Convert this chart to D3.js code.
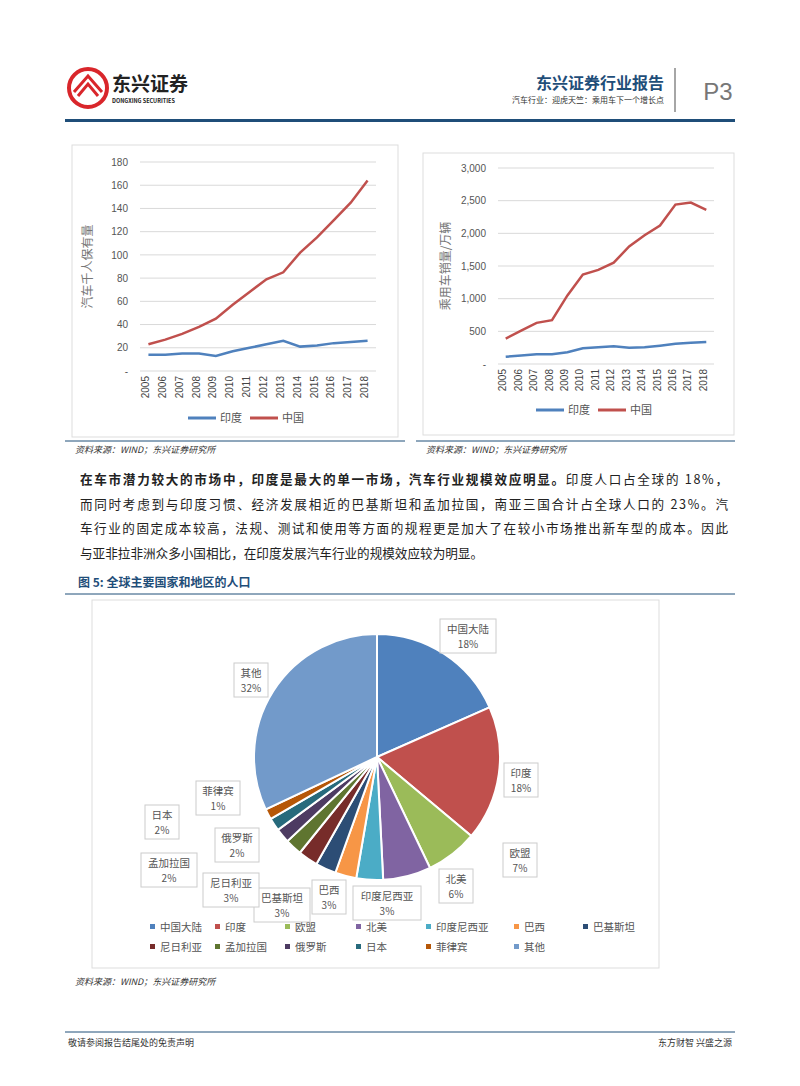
<!DOCTYPE html>
<html><head><meta charset="utf-8">
<script src="https://cdn.jsdelivr.net/npm/d3@7"></script>
<style>body{margin:0;background:#fff;font-family:"Noto Sans CJK SC","Noto Sans",sans-serif;}</style>
</head><body><div id="page"></div>
<script>
// years on both line charts
var years = ["2005","2006","2007","2008","2009","2010","2011","2012","2013","2014","2015","2016","2017","2018"];
// cars per 1000 people
var ownIndia = [14,14,15,15,13,17,20,23,26,21,22,24,25,26];
var ownChina = [23,27,32,38,45,57,68,79,85,102,115,130,145,164];
// passenger car sales, 10k units
var salesIndia = [110,130,150,150,180,240,255,270,250,255,280,310,325,335];
var salesChina = [390,510,630,670,1050,1370,1440,1550,1800,1970,2120,2440,2470,2360];
var ownTicks = [0,20,40,60,80,100,120,140,160,180];
var salesTicks = [0,500,1000,1500,2000,2500,3000];
// population share
var popNames = ["中国大陆","印度","欧盟","北美","印度尼西亚","巴西","巴基斯坦","尼日利亚","孟加拉国","俄罗斯","日本","菲律宾","其他"];
var popShare = [18.4,17.7,6.8,6.3,3.5,2.8,2.7,2.6,2.2,1.9,1.7,1.4,32.0];
var popLabels = ["18%","18%","7%","6%","3%","3%","3%","3%","2%","2%","2%","1%","32%"];
var popColors = ["#4f81bd","#c0504d","#9bbb59","#8064a2","#4bacc6","#f79646","#2c4d75","#772c2a","#5f7530","#4d3b62","#276a7c","#b65708","#729aca"];
// label box centres (layout only)
var labelPos = [[468,636],[521,780],[520,860],[456,886],[387,903],[329,897],[282,905],[231,890],[169,870],[237,845],[162,822],[218,798],[251,680]];

var svg = d3.select("#page").append("svg").attr("width",800).attr("height",1086);
var blue = "#1f4e79", dark = "#222";

// header
svg.append("circle").attr("cx",88).attr("cy",88).attr("r",19).attr("fill","none").attr("stroke","#d9262b").attr("stroke-width",4);
svg.append("path").attr("d","M74,92 L88,76 L102,92 M78,96 L88,84 L98,96").attr("fill","none").attr("stroke","#d9262b").attr("stroke-width",3);
svg.append("text").attr("x",112).attr("y",91).attr("font-size",19).attr("font-weight","bold").attr("fill","#222").text("东兴证券");
svg.append("text").attr("x",112).attr("y",103).attr("font-size",5.5).attr("font-weight","bold").attr("fill","#222").text("DONGXING SECURITIES");
svg.append("text").attr("x",664).attr("y",89).attr("text-anchor","end").attr("font-size",16).attr("font-weight","bold").attr("fill",blue).text("东兴证券行业报告");
svg.append("text").attr("x",664).attr("y",103).attr("text-anchor","end").attr("font-size",8).attr("fill","#333").text("汽车行业：迎虎天竺：乘用车下一个增长点");
svg.append("line").attr("x1",675).attr("x2",675).attr("y1",68).attr("y2",112).attr("stroke","#888").attr("stroke-width",1.5);
svg.append("text").attr("x",718).attr("y",100).attr("text-anchor","middle").attr("font-size",24).attr("fill","#777").attr("font-family","Liberation Sans").text("P3");
svg.append("rect").attr("x",65).attr("y",119).attr("width",670).attr("height",3).attr("fill",blue);

// line chart helper
function lineChart(box, plot, ticks, maxV, india, china, ylabel, fmt) {
  svg.append("rect").attr("x",box[0]).attr("y",box[1]).attr("width",box[2]).attr("height",box[3]).attr("fill","none").attr("stroke","#ddd");
  var g = svg.append("g").attr("transform","translate("+plot.x+","+plot.y+")");
  var x = d3.scalePoint().domain(years).range([0,plot.w]).padding(0.5);
  var y = d3.scaleLinear().domain([0,maxV]).range([plot.h,0]);
  g.selectAll(".gl").data(ticks).enter().append("line").attr("x1",0).attr("x2",plot.w)
    .attr("y1",function(d){return y(d);}).attr("y2",function(d){return y(d);}).attr("stroke","#d9d9d9");
  var ya = g.append("g").call(d3.axisLeft(y).tickValues(ticks).tickSize(0).tickPadding(12).tickFormat(function(d){return d===0?"-":fmt(d);}));
  ya.select(".domain").remove();
  ya.selectAll("text").attr("font-size",10).attr("fill","#555").attr("font-family","Liberation Sans");
  var xa = g.append("g").attr("transform","translate(0,"+plot.h+")").call(d3.axisBottom(x).tickSize(0));
  xa.select(".domain").remove();
  xa.selectAll("text").attr("font-size",10).attr("fill","#444").attr("font-family","Liberation Sans")
    .attr("transform","rotate(-90)").attr("text-anchor","end").attr("dx","-0.5em").attr("dy","-0.3em");
  var ln = d3.line().x(function(d,i){return x(years[i]);}).y(function(d){return y(d);});
  g.append("path").datum(india).attr("d",ln).attr("fill","none").attr("stroke","#4f81bd").attr("stroke-width",2.5);
  g.append("path").datum(china).attr("d",ln).attr("fill","none").attr("stroke","#c0504d").attr("stroke-width",2.5);
  g.append("text").attr("transform","translate(-48,"+(plot.h/2)+") rotate(-90)").attr("text-anchor","middle").attr("font-size",12).attr("fill","#777").text(ylabel);
  var lx = plot.x + plot.w/2 - 70, ly = plot.ly;
  [["印度","#4f81bd"],["中国","#c0504d"]].forEach(function(s,i){
    svg.append("line").attr("x1",lx+i*62).attr("x2",lx+i*62+28).attr("y1",ly).attr("y2",ly).attr("stroke",s[1]).attr("stroke-width",3);
    svg.append("text").attr("x",lx+i*62+32).attr("y",ly+4).attr("font-size",11).attr("fill","#555").text(s[0]);
  });
}
var f0 = d3.format(",");
lineChart([72,145,326,292],{x:140,y:162,w:236,h:209,ly:418},ownTicks,180,ownIndia,ownChina,"汽车千人保有量",f0);
lineChart([423,153,311,282],{x:498,y:168,w:216,h:196,ly:410},salesTicks,3000,salesIndia,salesChina,"乘用车销量/万辆",f0);

// source lines
[[65,405],[416,735]].forEach(function(r){
  svg.append("line").attr("x1",r[0]).attr("x2",r[1]).attr("y1",441).attr("y2",441).attr("stroke",blue).attr("stroke-width",1);
  svg.append("text").attr("x",r[0]+10).attr("y",453).attr("font-size",9).attr("font-style","italic").attr("fill","#333").text("资料来源：WIND；东兴证券研究所");
});

// paragraph
var para = [
  [{t:"在车市潜力较大的市场中，印度是最大的单一市场，汽车行业规模效应明显。",b:true},{t:"印度人口占全球的 18%，",b:false}],
  [{t:"而同时考虑到与印度习惯、经济发展相近的巴基斯坦和孟加拉国，南亚三国合计占全球人口的 23%。汽",b:false}],
  [{t:"车行业的固定成本较高，法规、测试和使用等方面的规程更是加大了在较小市场推出新车型的成本。因此",b:false}],
  [{t:"与亚非拉非洲众多小国相比，在印度发展汽车行业的规模效应较为明显。",b:false}]
];
para.forEach(function(line,i){
  var t = svg.append("text").attr("x",80).attr("y",484+i*24.5).attr("font-size",12.6).attr("fill",dark)
    .attr("textLength",i<3?648:null).attr("lengthAdjust","spacing");
  line.forEach(function(s){ t.append("tspan").attr("font-weight",s.b?"bold":"normal").text(s.t); });
});

// figure title
svg.append("text").attr("x",78).attr("y",587).attr("font-size",12).attr("font-weight","bold").attr("fill",blue).text("图 5: 全球主要国家和地区的人口");
svg.append("line").attr("x1",65).attr("x2",735).attr("y1",594).attr("y2",594).attr("stroke",blue);
svg.append("rect").attr("x",92).attr("y",600).attr("width",567).attr("height",368).attr("fill","none").attr("stroke","#ddd");

// pie
var pieData = d3.pie().sort(null).value(function(d){return d;})(popShare);
var arc = d3.arc().innerRadius(0).outerRadius(123);
var pg = svg.append("g").attr("transform","translate(377,757)");
pg.selectAll("path").data(pieData).enter().append("path").attr("d",arc)
  .attr("fill",function(d,i){return popColors[i];}).attr("stroke","#fff").attr("stroke-width",2);
labelPos.forEach(function(p,i){
  var w = Math.max(popNames[i].length*12+8, 34), h = 34;
  svg.append("rect").attr("x",p[0]-w/2).attr("y",p[1]-h/2).attr("width",w).attr("height",h).attr("fill","#fff").attr("stroke","#ccc");
  svg.append("text").attr("x",p[0]).attr("y",p[1]-3).attr("text-anchor","middle").attr("font-size",10.5).attr("fill","#555").text(popNames[i]);
  svg.append("text").attr("x",p[0]).attr("y",p[1]+12).attr("text-anchor","middle").attr("font-size",10).attr("fill","#555").text(popLabels[i]);
});
// legend
var legX = [150,215,285,356,426,514,583];
popNames.forEach(function(n,i){
  var row = i<7?0:1, col = i<7?i:i-7;
  var lx = legX[col], ly = 928+row*20;
  svg.append("rect").attr("x",lx).attr("y",ly-4).attr("width",5).attr("height",5).attr("fill",popColors[i]);
  svg.append("text").attr("x",lx+10).attr("y",ly+3).attr("font-size",10.5).attr("fill","#555").text(n);
});
svg.append("text").attr("x",75).attr("y",985).attr("font-size",9).attr("font-style","italic").attr("fill","#333").text("资料来源：WIND；东兴证券研究所");

// footer
svg.append("line").attr("x1",65).attr("x2",735).attr("y1",1032).attr("y2",1032).attr("stroke",blue);
svg.append("text").attr("x",68).attr("y",1046).attr("font-size",9).attr("fill","#333").text("敬请参阅报告结尾处的免责声明");
svg.append("text").attr("x",732).attr("y",1046).attr("text-anchor","end").attr("font-size",9).attr("fill","#333").text("东方财智 兴盛之源");
</script></body></html>
